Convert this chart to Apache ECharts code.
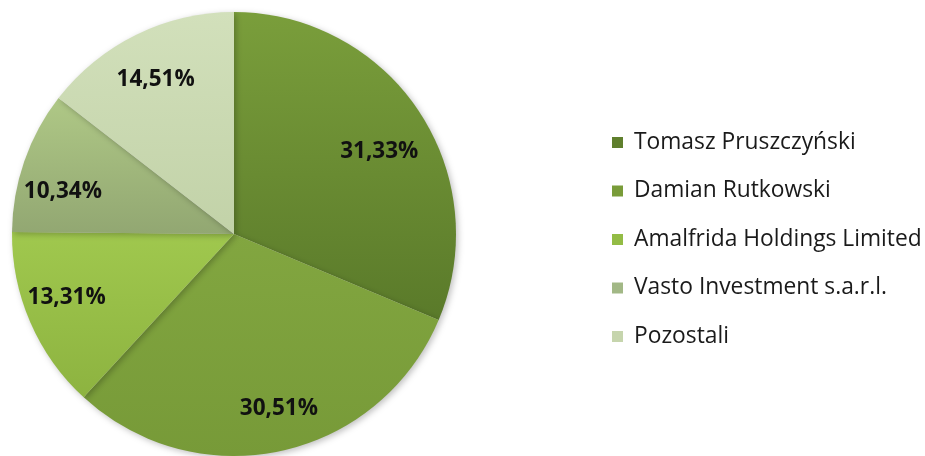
<!DOCTYPE html>
<html>
<head>
<meta charset="utf-8">
<script src="https://cdn.jsdelivr.net/npm/echarts@6/dist/echarts.min.js"></script>
<style>
  html, body { margin: 0; padding: 0; background: #fff; }
  #chart { width: 925px; height: 456px; }
</style>
</head>
<body>
<div id="chart"></div>
<script>
const names = ['Tomasz Pruszczyński', 'Damian Rutkowski', 'Amalfrida Holdings Limited', 'Vasto Investment s.a.r.l.', 'Pozostali']
const shares = [31.33, 30.51, 13.31, 10.34, 14.51]
const colorsTop = ['#7a9e3b', '#82a640', '#a0c84e', '#afc886', '#d2e0bb']
const colorsBottom = ['#5a7a2a', '#779a38', '#8db340', '#92a772', '#c2d2a8']
const legendColors = ['#5f7f2d', '#799c39', '#93bc45', '#a2b886', '#c6d5ad']
// small nudges so the percentage labels sit where Excel's "best fit" put them
const labelNudges = [[-3, 16], [7, 1], [-4, -7], [-3, 16], [0, 5]]

const chart = echarts.init(document.getElementById('chart'))

const fmt = v => v.toFixed(2).replace('.', ',') + '%'

const pieData = names.map((n, i) => ({
  name: n,
  value: shares[i],
  itemStyle: {
    color: new echarts.graphic.LinearGradient(0, 0, 0, 1, [
      { offset: 0, color: colorsTop[i] },
      { offset: 1, color: colorsBottom[i] },
    ]),
  },
}))

const labelData = names.map((n, i) => ({
  name: n,
  value: shares[i],
  label: { offset: labelNudges[i] },
}))

chart.setOption({
  animation: false,
  legend: {
    orient: 'vertical',
    left: 607,
    top: 126,
    icon: 'rect',
    itemWidth: 11,
    itemHeight: 11,
    itemGap: 25.5,
    textStyle: {
      fontFamily: 'Open Sans',
      fontSize: 22.8,
      lineHeight: 22,
      color: '#1a1a1a',
      padding: [0, 0, 0, 6],
    },
    data: names.map((n, i) => ({ name: n, itemStyle: { color: legendColors[i] } })),
  },
  series: [
    {
      type: 'pie',
      center: [234, 234],
      radius: [0, 222],
      startAngle: 90,
      clockwise: true,
      silent: true,
      label: { show: false },
      labelLine: { show: false },
      itemStyle: {
        shadowBlur: 6,
        shadowOffsetX: 2,
        shadowOffsetY: 2,
        shadowColor: 'rgba(0,0,0,0.25)',
      },
      data: pieData,
    },
    {
      type: 'pie',
      center: [234, 234],
      radius: [128, 222],
      startAngle: 90,
      clockwise: true,
      silent: true,
      legendHoverLink: false,
      itemStyle: { color: 'rgba(0,0,0,0)' },
      label: {
        show: true,
        position: 'inside',
        formatter: p => fmt(p.value),
        fontFamily: 'Open Sans',
        fontWeight: 'bold',
        fontSize: 22.5,
        color: '#111',
      },
      labelLine: { show: false },
      data: labelData,
    },
  ],
})
</script>
</body>
</html>
